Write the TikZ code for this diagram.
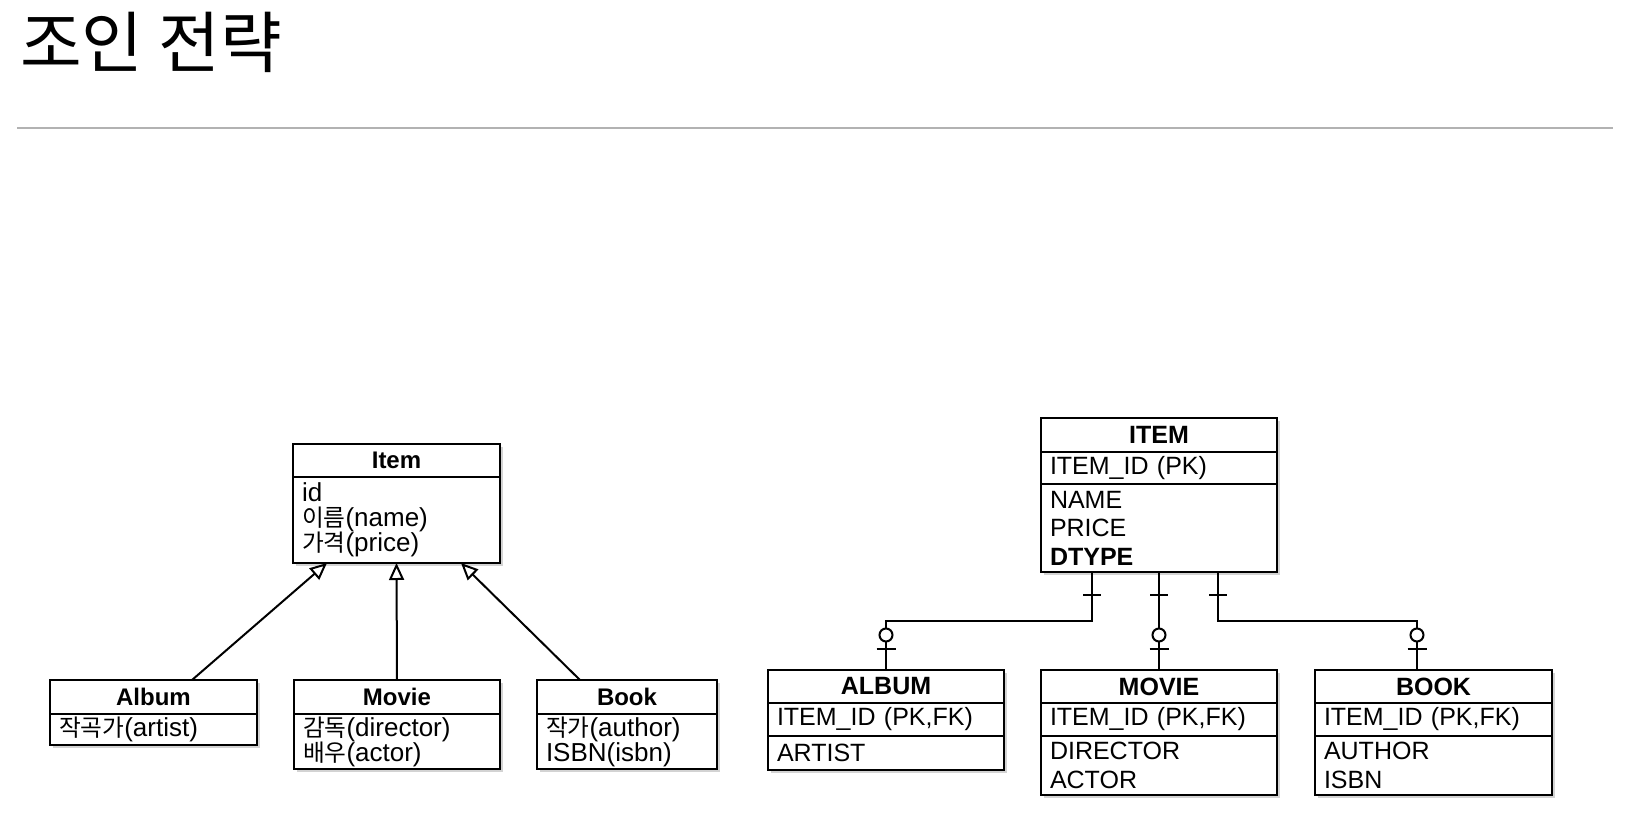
\documentclass[tikz,border=0pt]{standalone}
\usepackage{fontspec}
\setmainfont{Liberation Sans}
\newfontfamily\kr{Noto Sans CJK KR}
\newfontfamily\krs{Noto Sans CJK KR}[Scale=0.91]
\usetikzlibrary{positioning,shadows,arrows.meta}

\tikzset{
  box/.style={draw,line width=2pt,fill=white,outer sep=0pt,inner xsep=9pt,inner ysep=0pt,
    drop shadow={shadow xshift=2.5pt,shadow yshift=-3pt,opacity=0.35}},
  umlhead/.style={box,font=\fontsize{24}{25}\selectfont\bfseries,align=center},
  umlbody/.style={box,font=\fontsize{26}{25}\selectfont,align=left},
  tblhead/.style={box,font=\fontsize{25}{28.5}\selectfont\bfseries,align=center},
  tblbody/.style={box,font=\fontsize{25}{28.5}\selectfont,align=left},
  inherit/.style={line width=2pt,-{Triangle[open,length=17pt,width=15pt]}},
  rel/.style={line width=2pt},
}

\begin{document}
\begin{tikzpicture}[x=1pt,y=-1pt]
\useasboundingbox (0,0) rectangle (1636,832);
\node[anchor=base west,inner sep=0pt,font=\kr\fontsize{67}{75}\selectfont] (title) at (20,68) {조인 전략};
\draw[gray!60,line width=2pt] (17,128) -- (1613,128);

% object model
\node[umlhead,anchor=north west,minimum width=207pt,minimum height=33pt] (itemh) at (293,444) {Item};
\node[umlbody,below=0pt of itemh,minimum width=207pt,minimum height=86pt,text width=189pt] (itemb) {id\\{\krs 이름}(name)\\{\krs 가격}(price)};
\node[umlhead,anchor=north west,minimum width=207pt,minimum height=34pt] (albumh) at (50,680) {Album};
\node[umlbody,below=0pt of albumh,minimum width=207pt,minimum height=31pt,text width=189pt] (albumb) {{\krs 작곡가}(artist)};
\node[umlhead,anchor=north west,minimum width=206pt,minimum height=34pt] (movieh) at (294,680) {Movie};
\node[umlbody,below=0pt of movieh,minimum width=206pt,minimum height=55pt,text width=188pt] (movieb) {{\krs 감독}(director)\\{\krs 배우}(actor)};
\node[umlhead,anchor=north west,minimum width=180pt,minimum height=34pt] (bookh) at (537,680) {Book};
\node[umlbody,below=0pt of bookh,minimum width=180pt,minimum height=55pt,text width=162pt] (bookb) {{\krs 작가}(author)\\ISBN(isbn)};
\draw[inherit] ([xshift=38.5pt]albumh.north) -- ([xshift=-69.5pt]itemb.south);
\draw[inherit] (movieh.north) -- (itemb.south);
\draw[inherit] ([xshift=-47pt]bookh.north) -- ([xshift=64.5pt]itemb.south);

% tables
\node[tblhead,anchor=north west,minimum width=236pt,minimum height=34pt] (titemh) at (1041,418) {ITEM};
\node[tblbody,below=0pt of titemh,minimum width=236pt,minimum height=32pt,text width=218pt] (titemk) {ITEM\_ID (PK)};
\node[tblbody,below=0pt of titemk,minimum width=236pt,minimum height=88pt,text width=218pt] (titemb) {NAME\\PRICE\\\textbf{DTYPE}};
\node[tblhead,anchor=north west,minimum width=236pt,minimum height=33pt] (talbumh) at (768,670) {ALBUM};
\node[tblbody,below=0pt of talbumh,minimum width=236pt,minimum height=33pt,text width=218pt] (talbumk) {ITEM\_ID (PK,FK)};
\node[tblbody,below=0pt of talbumk,minimum width=236pt,minimum height=34pt,text width=218pt] (talbumb) {ARTIST};
\node[tblhead,anchor=north west,minimum width=236pt,minimum height=33pt] (tmovieh) at (1041,670) {MOVIE};
\node[tblbody,below=0pt of tmovieh,minimum width=236pt,minimum height=33pt,text width=218pt] (tmoviek) {ITEM\_ID (PK,FK)};
\node[tblbody,below=0pt of tmoviek,minimum width=236pt,minimum height=59pt,text width=218pt] (tmovieb) {DIRECTOR\\ACTOR};
\node[tblhead,anchor=north west,minimum width=237pt,minimum height=33pt] (tbookh) at (1315,670) {BOOK};
\node[tblbody,below=0pt of tbookh,minimum width=237pt,minimum height=33pt,text width=219pt] (tbookk) {ITEM\_ID (PK,FK)};
\node[tblbody,below=0pt of tbookk,minimum width=237pt,minimum height=59pt,text width=219pt] (tbookb) {AUTHOR\\ISBN};

\draw[rel] ([xshift=-67pt]titemb.south) -- ++(0,49) -| (talbumh.north);
\draw[rel] (titemb.south) -- (tmovieh.north);
\draw[rel] ([xshift=59pt]titemb.south) -- ++(0,49) -| ([xshift=-16.5pt]tbookh.north);
% one (item side)
\draw[rel] ([xshift=-76pt,yshift=-23pt]titemb.south) -- ++(18,0);
\draw[rel] ([xshift=-9pt,yshift=-23pt]titemb.south) -- ++(18,0);
\draw[rel] ([xshift=50pt,yshift=-23pt]titemb.south) -- ++(18,0);
% zero or one (child side)
\draw[rel] ([xshift=-9.5pt,yshift=21pt]talbumh.north) -- ++(19,0);
\draw[rel] ([xshift=-9.5pt,yshift=21pt]tmovieh.north) -- ++(19,0);
\draw[rel] ([xshift=-26pt,yshift=21pt]tbookh.north) -- ++(19,0);
\draw[rel,fill=white] ([yshift=35pt]talbumh.north) circle [radius=6.5pt];
\draw[rel,fill=white] ([yshift=35pt]tmovieh.north) circle [radius=6.5pt];
\draw[rel,fill=white] ([xshift=-16.5pt,yshift=35pt]tbookh.north) circle [radius=6.5pt];
\end{tikzpicture}
\end{document}
